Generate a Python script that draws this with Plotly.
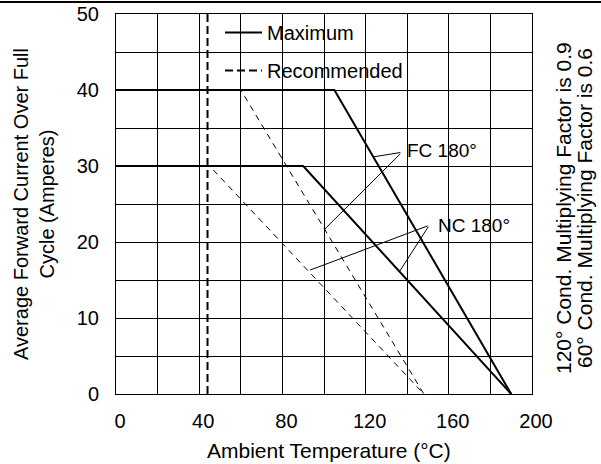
import plotly.graph_objects as go

# ---- data ----
fc_max_t = [0, 105, 190]
fc_max_i = [40, 40, 0]
nc_max_t = [0, 90, 190]
nc_max_i = [30, 30, 0]
fc_rec_t = [0, 60, 148]
fc_rec_i = [40, 40, 0]
nc_rec_t = [0, 45, 148]
nc_rec_i = [30, 30, 0]
rec_limit_t = [44, 44]
rec_limit_i = [0, 50]

x_ticks = [0, 40, 80, 120, 160, 200]
y_ticks = [0, 10, 20, 30, 40, 50]

# callout labels: text anchor, vertex, endpoints
fc_label = ("FC 180°", 139.0, 32.1)
fc_vertex = (137.4, 31.8)
fc_ends = [(123.7, 31.2), (100.0, 21.6)]
nc_label = ("NC 180°", 153.8, 22.2)
nc_vertex = (150.6, 22.2)
nc_ends = [(93.3, 16.3), (136.5, 16.2)]

side_notes = ["120° Cond. Multiplying Factor is 0.9", "60° Cond. Multiplying Factor is 0.6"]

FONT = "Liberation Sans, Arial, sans-serif"

W, H = 601, 464
# plot area in pixels (margins are zero; domains place the plot)
PL, PR, PT, PB = 116, 532, 14, 394
PW = PR - PL
PH = PB - PT


def fx(px):
    return px / W


def fy(py):
    return (H - py) / H


fig = go.Figure()

fig.add_trace(go.Scatter(x=fc_max_t, y=fc_max_i, mode="lines", name="Maximum",
                         line=dict(color="black", width=2), legendgroup="a"))
fig.add_trace(go.Scatter(x=nc_max_t, y=nc_max_i, mode="lines", showlegend=False,
                         line=dict(color="black", width=2)))
fig.add_trace(go.Scatter(x=fc_rec_t, y=fc_rec_i, mode="lines", showlegend=False,
                         line=dict(color="black", width=1, dash="6px,5px")))
fig.add_trace(go.Scatter(x=nc_rec_t, y=nc_rec_i, mode="lines", showlegend=False,
                         line=dict(color="black", width=1, dash="6px,5px")))
fig.add_trace(go.Scatter(x=rec_limit_t, y=rec_limit_i, mode="lines", name="Recommended",
                         line=dict(color="black", width=2, dash="8px,4px"), legendgroup="b"))

annotations = []
for (label, vtx, ends) in [(fc_label, fc_vertex, fc_ends), (nc_label, nc_vertex, nc_ends)]:
    annotations.append(dict(x=label[1], y=label[2], xref="x", yref="y", text=label[0],
                            showarrow=False, xanchor="left", yanchor="middle",
                            font=dict(family=FONT, size=19, color="black")))
    for (ex, ey) in ends:
        annotations.append(dict(x=ex, y=ey, xref="x", yref="y", ax=vtx[0], ay=vtx[1],
                                axref="x", ayref="y", text="", showarrow=True,
                                arrowhead=0, arrowwidth=1, arrowcolor="black"))

# axis titles as annotations
annotations.append(dict(x=fx(34), y=fy(204), xref="paper", yref="paper",
                        text="Average Forward Current Over Full<br>Cycle (Amperes)",
                        textangle=-90, showarrow=False, xanchor="center", yanchor="middle",
                        font=dict(family=FONT, size=20, color="black")))
annotations.append(dict(x=fx(329), y=fy(450), xref="paper", yref="paper",
                        text="Ambient Temperature (°C)", showarrow=False,
                        xanchor="center", yanchor="middle",
                        font=dict(family=FONT, size=21, color="black")))
for note, cx in zip(side_notes, [563, 584]):
    annotations.append(dict(x=fx(cx), y=fy(208), xref="paper", yref="paper",
                            text=note, textangle=-90, showarrow=False,
                            xanchor="center", yanchor="middle",
                            font=dict(family=FONT, size=21, color="black")))

axis_common = dict(showline=True, mirror=True, linecolor="black", linewidth=1,
                   showgrid=True, gridcolor="black", gridwidth=1, zeroline=False,
                   ticks="", automargin=False,
                   tickfont=dict(family=FONT, size=20, color="black"))

fig.update_layout(
    width=W, height=H,
    margin=dict(l=0, r=0, t=0, b=0, pad=0, autoexpand=False),
    paper_bgcolor="white", plot_bgcolor="white",
    xaxis=dict(range=[0, 200], tickvals=x_ticks, ticklabelstandoff=9, ticklabelshift=4,
               domain=[fx(PL), fx(PR)],
               minor=dict(dtick=20, showgrid=True, gridcolor="black", gridwidth=1),
               **axis_common),
    yaxis=dict(range=[0, 50], tickvals=y_ticks, ticklabelstandoff=12,
               domain=[fy(PB), fy(PT)],
               minor=dict(dtick=5, showgrid=True, gridcolor="black", gridwidth=1),
               **axis_common),
    legend=dict(x=fx(220), y=fy(13), xanchor="left", yanchor="top",
                bgcolor="rgba(0,0,0,0)", tracegroupgap=9, traceorder="grouped",
                itemwidth=37,
                font=dict(family=FONT, size=20, color="black")),
    showlegend=True,
    annotations=annotations,
    shapes=[dict(type="rect", xref="paper", yref="paper", layer="above",
                 x0=0, x1=1, y0=fy(3), y1=fy(1),
                 fillcolor="black", line=dict(width=0))],
)

fig.write_html("out.html", config={"displayModeBar": False},
               post_script="document.body.style.margin='0';")
